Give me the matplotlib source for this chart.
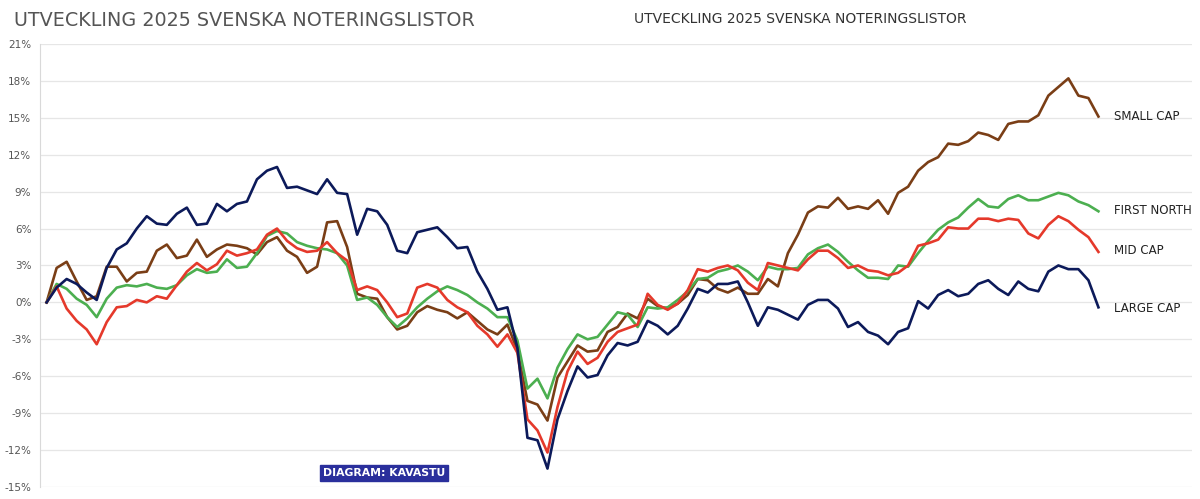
import numpy as np
import matplotlib
matplotlib.use("Agg")
import matplotlib.pyplot as plt

# values in percent, one point every ~10 px along the reference x axis
large_cap = [0, 1.2, 1.9, 1.5, 0.8, 0.2, 2.8, 4.3, 4.8, 6.0,
             7.0, 6.4, 6.3, 7.2, 7.7, 6.3, 6.4, 8.0, 7.4, 8.0,
             8.2, 10.0, 10.7, 11.0, 9.3, 9.4, 9.1, 8.8, 10.0, 8.9,
             8.8, 5.5, 7.6, 7.4, 6.3, 4.2, 4.0, 5.7, 5.9, 6.1,
             5.3, 4.4, 4.5, 2.5, 1.1, -0.6, -0.4, -3.7, -11.0, -11.2,
             -13.5, -9.5, -7.2, -5.2, -6.1, -5.9, -4.3, -3.3, -3.5, -3.2,
             -1.5, -1.9, -2.6, -1.9, -0.5, 1.1, 0.8, 1.5, 1.5, 1.7,
             0.0, -1.9, -0.4, -0.6, -1.0, -1.4, -0.2, 0.2, 0.2, -0.5,
             -2.0, -1.6, -2.4, -2.7, -3.4, -2.4, -2.1, 0.1, -0.5, 0.6,
             1.0, 0.5, 0.7, 1.5, 1.8, 1.1, 0.6, 1.7, 1.1, 0.9,
             2.5, 3.0, 2.7, 2.7, 1.8, -0.4]
mid_cap = [0, 1.3, -0.5, -1.5, -2.2, -3.4, -1.6, -0.4, -0.3, 0.2,
           0.0, 0.5, 0.3, 1.4, 2.5, 3.2, 2.6, 3.1, 4.2, 3.8,
           4.0, 4.3, 5.5, 6.0, 5.0, 4.4, 4.1, 4.2, 4.9, 4.0,
           3.4, 1.0, 1.3, 1.0, 0.0, -1.2, -0.9, 1.2, 1.5, 1.2,
           0.2, -0.4, -0.8, -1.9, -2.6, -3.6, -2.6, -4.1, -9.5, -10.4,
           -12.2, -8.5, -5.6, -4.0, -5.0, -4.5, -3.2, -2.4, -2.1, -1.8,
           0.7, -0.2, -0.6, -0.1, 1.0, 2.7, 2.5, 2.8, 3.0, 2.6,
           1.6, 1.0, 3.2, 3.0, 2.8, 2.6, 3.5, 4.2, 4.2, 3.6,
           2.8, 3.0, 2.6, 2.5, 2.2, 2.4, 3.0, 4.6, 4.8, 5.1,
           6.1, 6.0, 6.0, 6.8, 6.8, 6.6, 6.8, 6.7, 5.6, 5.2,
           6.3, 7.0, 6.6, 5.9, 5.3, 4.1]
first_north = [0, 1.5, 1.1, 0.3, -0.2, -1.2, 0.3, 1.2, 1.4, 1.3,
               1.5, 1.2, 1.1, 1.4, 2.2, 2.7, 2.4, 2.5, 3.5, 2.8,
               2.9, 4.0, 5.4, 5.8, 5.6, 4.9, 4.6, 4.4, 4.3, 4.0,
               3.0, 0.2, 0.4, -0.2, -1.2, -2.0, -1.3, -0.4, 0.3, 0.9,
               1.3, 1.0, 0.6, 0.0, -0.5, -1.2, -1.2, -3.1, -7.0, -6.2,
               -7.8, -5.3, -3.8, -2.6, -3.0, -2.8, -1.8, -0.8, -1.0, -2.0,
               -0.4, -0.5, -0.4, 0.2, 0.9, 1.9, 2.0, 2.5, 2.7, 3.0,
               2.5, 1.8, 2.9, 2.7, 2.7, 2.8, 3.9, 4.4, 4.7, 4.1,
               3.3, 2.6, 2.0, 2.0, 1.9, 3.0, 2.9, 4.0, 5.0, 5.9,
               6.5, 6.9, 7.7, 8.4, 7.8, 7.7, 8.4, 8.7, 8.3, 8.3,
               8.6, 8.9, 8.7, 8.2, 7.9, 7.4]
small_cap = [0, 2.8, 3.3, 1.7, 0.2, 0.5, 2.9, 2.9, 1.7, 2.4,
             2.5, 4.2, 4.7, 3.6, 3.8, 5.1, 3.7, 4.3, 4.7, 4.6,
             4.4, 3.9, 4.9, 5.3, 4.2, 3.7, 2.4, 2.9, 6.5, 6.6,
             4.5, 0.7, 0.4, 0.3, -1.2, -2.2, -1.9, -0.8, -0.3, -0.6,
             -0.8, -1.3, -0.8, -1.5, -2.2, -2.6, -1.8, -3.9, -8.0, -8.3,
             -9.6, -6.1, -4.8, -3.5, -4.0, -3.9, -2.4, -2.0, -0.9, -1.3,
             0.3, -0.3, -0.5, -0.1, 0.6, 1.9, 1.8, 1.1, 0.8, 1.2,
             0.7, 0.7, 1.9, 1.3, 4.0, 5.5, 7.3, 7.8, 7.7, 8.5,
             7.6, 7.8, 7.6, 8.3, 7.2, 8.9, 9.4, 10.7, 11.4, 11.8,
             12.9, 12.8, 13.1, 13.8, 13.6, 13.2, 14.5, 14.7, 14.7, 15.2,
             16.8, 17.5, 18.2, 16.8, 16.6, 15.1]

series = [
    ("SMALL CAP", small_cap, "#7a3e16", 15.1),
    ("FIRST NORTH", first_north, "#4caf50", 7.5),
    ("MID CAP", mid_cap, "#e5392b", 4.2),
    ("LARGE CAP", large_cap, "#0c1a5a", -0.5),
]
yticks = list(range(-15, 22, 3))

fig = plt.figure(figsize=(12, 4.99), dpi=100)
ax = fig.add_axes([0.033, 0.024, 0.96, 0.888])

for name, vals, color, ylab in series:
    x = np.arange(len(vals))
    ax.plot(x, vals, color=color, lw=1.9, zorder=3)
    ax.text(len(vals) + 0.6, ylab, name, fontsize=8.5, color="#222222",
            va="center", ha="left")

ax.set_xlim(-0.7, 114.3)
ax.set_ylim(-15, 21)
ax.set_yticks(yticks)
ax.set_yticklabels([f"{t}%" for t in yticks], fontsize=7.5, color="#555555")
ax.set_xticks([])
ax.grid(axis="y", color="#e6e6e6", lw=0.9)
for s in ("top", "right", "bottom"):
    ax.spines[s].set_visible(False)
ax.spines["left"].set_color("#d9d9d9")
ax.tick_params(axis="y", length=0, pad=6)

fig.text(0.012, 0.958, "UTVECKLING 2025 SVENSKA NOTERINGSLISTOR", fontsize=13.8,
         color="#555555", va="center", ha="left")
fig.text(0.667, 0.962, "UTVECKLING 2025 SVENSKA NOTERINGSLISTOR", fontsize=10,
         color="#333333", va="center", ha="center")
fig.text(0.32, 0.052, "DIAGRAM: KAVASTU", fontsize=7.8, color="white",
         fontweight="bold", va="center", ha="center",
         bbox=dict(boxstyle="square,pad=0.3", fc="#2a2f9c", ec="#2a2f9c"))

fig.savefig("out.png", dpi=100)
